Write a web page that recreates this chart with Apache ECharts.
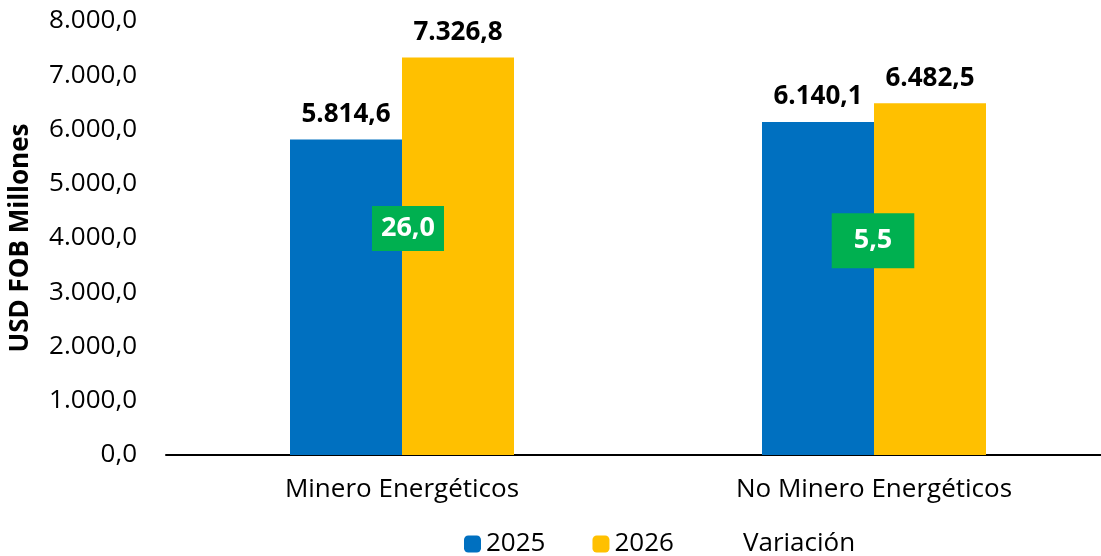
<!DOCTYPE html>
<html>
<head>
<meta charset="utf-8">
<script src="https://cdn.jsdelivr.net/npm/echarts@6/dist/echarts.min.js"></script>
<style>
  html, body { margin: 0; padding: 0; background: #fff; }
  #chart { width: 1101px; height: 556px; }
</style>
</head>
<body>
<div id="chart"></div>
<script>
const categories = ["Minero Energéticos", "No Minero Energéticos"];
const values2025 = [5814.6, 6140.1];
const values2026 = [7326.8, 6482.5];
const variacion = [26.0, 5.5];
const yTicks = [0, 1000, 2000, 3000, 4000, 5000, 6000, 7000, 8000];

const font = "'Open Sans', 'Noto Sans', sans-serif";

function fmt(v, dec) {
  const parts = Number(v).toFixed(dec).split(".");
  const int = parts[0].replace(/\B(?=(\d{3})+(?!\d))/g, ".");
  return parts[1] ? int + "," + parts[1] : int;
}

const chart = echarts.init(document.getElementById("chart"));

const barLabel = {
  show: true,
  position: "top",
  distance: 12,
  color: "#000",
  fontFamily: font,
  fontSize: 26,
  fontWeight: "bold",
  formatter: (p) => fmt(p.value, 1),
};

// label boxes differ a bit in size and place in the original
const varPadding = [[10, 9, 8, 9], [15, 22, 13, 22]];
const varOffset = [[6, 0], [-1, 0]];

chart.setOption({
  animation: false,
  textStyle: { fontFamily: font },
  grid: { left: 166, width: 944, top: 21, bottom: 101, containLabel: false, outerBoundsMode: "none" },
  legend: {
    top: 526,
    left: 459,
    itemWidth: 17,
    itemHeight: 17,
    itemGap: 47,
    textStyle: { fontSize: 26, color: "#000", fontFamily: font },
    data: [
      { name: "2025" },
      { name: "2026" },
      { name: "Variación", icon: "rect", itemStyle: { color: "rgba(0,0,0,0)", opacity: 0 } },
    ],
  },
  xAxis: {
    type: "category",
    data: categories,
    axisLine: { lineStyle: { color: "#000", width: 2 } },
    axisTick: { show: false },
    axisLabel: { color: "#000", fontSize: 26, fontFamily: font, margin: 22 },
  },
  yAxis: [
    {
      type: "value",
      min: yTicks[0],
      max: yTicks[yTicks.length - 1],
      interval: 1000,
      name: "USD FOB Millones",
      nameLocation: "middle",
      nameGap: 132,
      nameTextStyle: { fontSize: 26, fontWeight: "bold", color: "#000", fontFamily: font },
      axisLine: { show: false },
      axisTick: { show: false },
      splitLine: { show: false },
      axisLabel: { color: "#000", fontSize: 26, fontFamily: font, margin: 29, formatter: (v) => fmt(v, 1) },
    },
    { type: "value", min: -360, max: 380, show: false, splitLine: { show: false } },
  ],
  series: [
    {
      name: "2025",
      type: "bar",
      data: values2025,
      barWidth: 112,
      barGap: "0%",
      itemStyle: { color: "#0070c0" },
      label: barLabel,
    },
    {
      name: "2026",
      type: "bar",
      data: values2026,
      barWidth: 112,
      barGap: "0%",
      itemStyle: { color: "#ffc000" },
      label: barLabel,
    },
    {
      name: "Variación",
      type: "scatter",
      yAxisIndex: 1,
      symbolSize: 1,
      itemStyle: { color: "rgba(0,0,0,0)", opacity: 1 },
      z: 10,
      data: variacion.map((v, i) => ({
        value: v,
        label: { padding: varPadding[i], offset: varOffset[i] },
      })),
      label: {
        show: true,
        position: "inside",
        color: "#fff",
        fontFamily: font,
        fontSize: 27,
        fontWeight: "bold",
        backgroundColor: "#00b050",
        formatter: (p) => fmt(p.value, 1),
      },
    },
  ],
});
</script>
</body>
</html>
